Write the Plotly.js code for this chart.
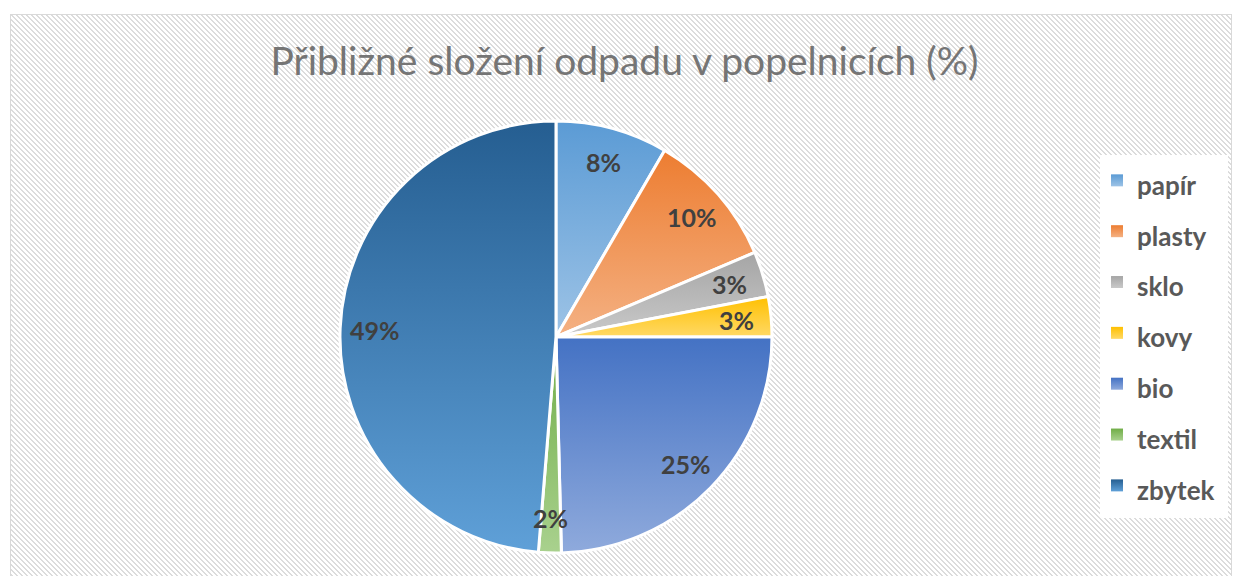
<!DOCTYPE html>
<html>
<head>
<meta charset="utf-8">
<script src="https://cdn.plot.ly/plotly-3.0.1.min.js"></script>
<style>
  html, body { margin: 0; padding: 0; background: #ffffff; }
  #frame {
    position: absolute; left: 10px; top: 14px; width: 1222px; height: 570px;
    border: 1px solid #d9d9d9; box-sizing: border-box; background-color: #ffffff;
  }
  #legbox {
    position: absolute; left: 1100px; top: 155px; width: 128px; height: 363px; background: #ffffff;
  }
  #chart { position: absolute; left: 0; top: 0; width: 1234px; height: 576px; }
</style>
</head>
<body>
<div id="frame"></div>
<div id="legbox"></div>
<div id="chart"></div>
<script>
// hatched background tile (diagonal "\" stripes)
(function () {
  const c = document.createElement("canvas");
  c.width = 5; c.height = 5;
  const ctx = c.getContext("2d");
  ctx.fillStyle = "#ffffff"; ctx.fillRect(0, 0, 5, 5);
  ctx.fillStyle = "#dcdcdc";
  for (let y = 0; y < 5; y++) for (let x = 0; x < 5; x++) {
    const m = ((x - y) % 5 + 5) % 5;
    if (m === 0 || m === 1) ctx.fillRect(x, y, 1, 1);
  }
  document.getElementById("frame").style.backgroundImage = "url(" + c.toDataURL() + ")";
})();

const categories = ["papír", "plasty", "sklo", "kovy", "bio", "textil", "zbytek"];
const values = [8.4, 10.2, 3.4, 3.0, 24.6, 1.7, 48.7];
const topColors = ["#5b9bd5", "#ed7d31", "#a5a5a5", "#ffc000", "#4472c4", "#70ad47", "#255e91"];
const bottomColors = ["#9dc3e6", "#f4b183", "#c9c9c9", "#ffd966", "#8faadc", "#a9d18e", "#5fa0d8"];
const midColors = ["#7cafdd", "#f0975a", "#b7b7b7", "#ffcc33", "#6a8ed0", "#8cbf6a", "#427fb5"];

const W = 1234, H = 576;
const domX = [0.2755, 0.6256], domY = [0.040, 0.790];

// percentage labels placed along each slice's mid-angle, derived from the values
const total = values.reduce((a, b) => a + b, 0);
const cx = (domX[0] + domX[1]) / 2 * W;
const cy = (1 - (domY[0] + domY[1]) / 2) * H;
const R = Math.min((domX[1] - domX[0]) * W, (domY[1] - domY[0]) * H) / 2;
let cum = 0;
const annotations = values.map(v => {
  const mid = (cum + v / 2) / total * 2 * Math.PI;
  cum += v;
  const r = 0.84 * R;
  const px = cx + r * Math.sin(mid), py = cy - r * Math.cos(mid);
  return {
    xref: "paper", yref: "paper", x: px / W, y: 1 - py / H,
    xanchor: "center", yanchor: "middle", showarrow: false,
    text: Math.round(v / total * 100) + "%",
    font: { family: "Lato, 'Open Sans', sans-serif", size: 25, color: "#404040", weight: "bold" }
  };
});

const trace = {
  type: "pie",
  labels: categories.map(c => '<span style="font-size:26px">' + c + '</span>'),
  values: values,
  sort: false,
  direction: "clockwise",
  rotation: 0,
  marker: { colors: midColors, line: { color: "#ffffff", width: 3 } },
  textinfo: "none",
  textposition: "none",
  domain: { x: domX, y: domY },
  hoverinfo: "skip"
};

const layout = {
  width: W, height: H,
  margin: { l: 0, r: 0, t: 0, b: 0 },
  paper_bgcolor: "rgba(0,0,0,0)",
  plot_bgcolor: "rgba(0,0,0,0)",
  showlegend: true,
  annotations: annotations,
  title: {
    text: "Přibližné složení odpadu v popelnicích (%)",
    font: { family: "Lato, 'Open Sans', sans-serif", size: 39, color: "#757575" },
    x: 0.506, xanchor: "center", y: 0.893, yanchor: "middle"
  },
  legend: {
    x: 0.889, xanchor: "left", y: 0.422, yanchor: "middle",
    bgcolor: "rgba(0,0,0,0)",
    font: { family: "Lato, 'Open Sans', sans-serif", size: 36.8, color: "#595959", weight: "bold" },
    itemwidth: 30
  }
};

Plotly.newPlot("chart", [trace], layout, { displayModeBar: false, staticPlot: true }).then(gd => {
  const svg = gd.querySelector("svg.main-svg");
  const ns = "http://www.w3.org/2000/svg";
  let defs = svg.querySelector("defs");
  if (!defs) { defs = document.createElementNS(ns, "defs"); svg.insertBefore(defs, svg.firstChild); }
  categories.forEach((c, i) => {
    const g = document.createElementNS(ns, "linearGradient");
    g.setAttribute("id", "sg" + i);
    g.setAttribute("x1", "0"); g.setAttribute("y1", "0"); g.setAttribute("x2", "0"); g.setAttribute("y2", "1");
    const s1 = document.createElementNS(ns, "stop"); s1.setAttribute("offset", "0"); s1.setAttribute("stop-color", topColors[i]);
    const s2 = document.createElementNS(ns, "stop"); s2.setAttribute("offset", "1"); s2.setAttribute("stop-color", bottomColors[i]);
    g.appendChild(s1); g.appendChild(s2); defs.appendChild(g);
  });
  gd.querySelectorAll("g.slice path.surface").forEach((p, i) => { p.style.fill = "url(#sg" + i + ")"; });
  gd.querySelectorAll("g.legend g.traces").forEach((t, i) => {
    const pt = t.querySelector("path.legendpie, path");
    if (pt) {
      pt.setAttribute("d", "M6,6H-6V-6H6Z");
      pt.style.fill = "url(#sg" + i + ")";
      pt.style.stroke = "none";
    }
  });
});
</script>
</body>
</html>
